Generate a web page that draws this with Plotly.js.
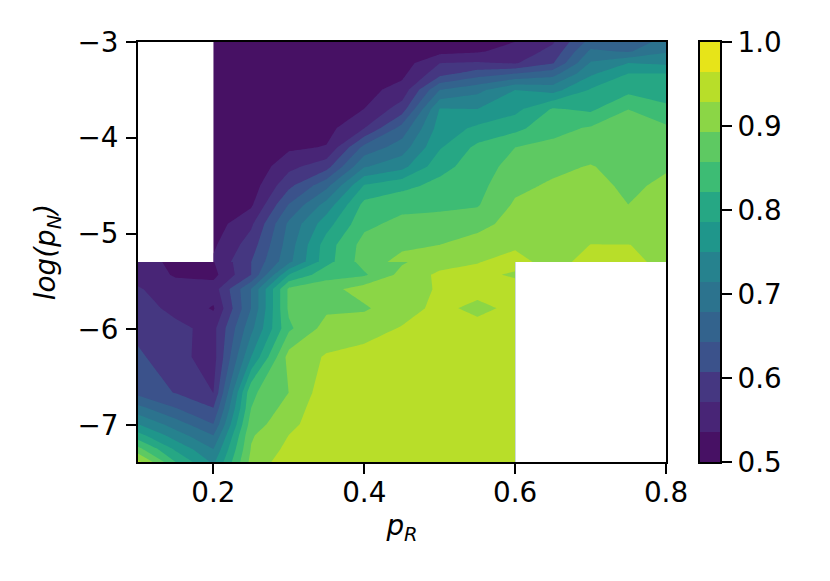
<!DOCTYPE html>
<html><head><meta charset="utf-8"><script src="https://cdn.plot.ly/plotly-3.0.1.min.js"></script>
<style>html,body{margin:0;padding:0;background:#fff}</style></head><body><div id="c" style="width:830px;height:581px"></div>
<script>
const step=0.5/14;
const bandColors=["#471164","#482576","#453781","#3b528b","#33638d","#2c738e","#26828e","#1f968b","#26a784","#3dbc74","#5ec962","#8bd646","#b8de29","#e7e419"];
const xUpper=[0.2,0.25,0.3,0.35,0.4,0.45,0.5,0.55,0.6,0.65,0.7,0.75,0.8];
const yUpper=[-3,-3.1,-3.22,-3.33,-3.5,-3.7,-3.9,-4.1,-4.3,-4.5,-4.7,-4.9,-5.12,-5.297];
// one list per p_R column, top row first
const upperCols=[
[.502,.502,.502,.502,.502,.502,.502,.502,.503,.505,.511,.518,.530,.541],
[.502,.502,.502,.502,.502,.502,.502,.503,.507,.516,.530,.565,.589,.607],
[.502,.502,.502,.502,.502,.503,.511,.529,.561,.598,.645,.686,.696,.705],
[.502,.502,.502,.503,.507,.514,.523,.538,.593,.668,.729,.771,.804,.807],
[.502,.504,.507,.513,.525,.536,.571,.654,.711,.789,.832,.848,.871,.875],
[.504,.509,.518,.527,.548,.589,.657,.696,.738,.811,.846,.868,.886,.904],
[.514,.525,.571,.593,.679,.752,.766,.782,.809,.832,.85,.870,.893,.914],
[.518,.532,.575,.625,.704,.75,.793,.830,.839,.846,.854,.879,.911,.927],
[.536,.55,.568,.643,.75,.775,.811,.857,.871,.884,.898,.909,.923,.941],
[.568,.582,.604,.664,.736,.825,.846,.866,.884,.898,.905,.911,.914,.914],
[.657,.686,.718,.743,.789,.814,.861,.875,.895,.904,.911,.918,.929,.943],
[.65,.675,.75,.786,.811,.857,.864,.871,.879,.886,.893,.907,.929,.936],
[.696,.711,.743,.786,.804,.829,.864,.879,.889,.9,.911,.918,.923,.921]];
const xLower=[0.1,0.15,0.2,0.25,0.3,0.35,0.4,0.45,0.5,0.55,0.6];
const yLower=[-5.297,-5.43,-5.58,-5.78,-5.99,-6.29,-6.66,-6.82,-6.99,-7.11,-7.25,-7.386];
const lowerCols=[
[.546,.557,.575,.586,.596,.614,.632,.689,.75,.8,.868,.939],
[.530,.532,.55,.562,.580,.582,.605,.643,.696,.732,.779,.821],
[.534,.525,.554,.532,.561,.557,.571,.607,.643,.679,.714,.743],
[.607,.607,.679,.679,.704,.75,.85,.857,.875,.889,.895,.904],
[.707,.786,.864,.864,.85,.907,.893,.907,.918,.929,.938,.95],
[.811,.843,.879,.886,.907,.932,.95,.954,.954,.957,.957,.961],
[.871,.852,.911,.887,.920,.936,.95,.954,.957,.957,.957,.961],
[.889,.904,.914,.920,.930,.946,.954,.954,.957,.957,.961,.961],
[.914,.936,.932,.934,.943,.95,.957,.957,.957,.957,.961,.961],
[.927,.939,.936,.923,.936,.95,.957,.957,.957,.957,.961,.961],
[.943,.923,.945,.934,.943,.95,.957,.957,.957,.957,.961,.961]];
const toRows=(cols)=>cols[0].map((_,r)=>cols.map(c=>c[r]));
const scale=[[0,bandColors[0]]];
bandColors.forEach((c,i)=>scale.push([(i+1)/15,c]));
scale.push([1,bandColors[13]]);
const font={family:'"DejaVu Sans"',size:27.8,color:'#000'};
const contours={start:0.5,end:1.0,size:step,coloring:'fill',showlines:false};
const common={type:'contour',contours,autocontour:false,colorscale:scale,showscale:false,line:{width:0,smoothing:0}};
// colour bar drawn as a heatmap on its own axes
const barEdges=bandColors.map((_,i)=>0.5+i*step).concat([1.0]);
const barZ=bandColors.map((_,i)=>[i]);
const barScale=[];
bandColors.forEach((c,i)=>{barScale.push([i/14,c]);barScale.push([(i+1)/14,c]);});
const W=830-138-60;
const ticks={ticks:'outside',ticklen:10,tickwidth:2,tickcolor:'#000',showline:true,mirror:true,linecolor:'#000',linewidth:2,showgrid:false,zeroline:false,tickfont:font};
Plotly.newPlot('c',[
 Object.assign({},common,{x:xUpper,y:yUpper,z:toRows(upperCols)}),
 Object.assign({},common,{x:xLower,y:yLower,z:toRows(lowerCols)}),
 {type:'heatmap',xaxis:'x2',yaxis:'y2',x:[0,1],y:barEdges,z:barZ,zmin:0,zmax:14,colorscale:barScale,showscale:false,hoverinfo:'skip'}
],{width:830,height:581,paper_bgcolor:'#fff',plot_bgcolor:'#fff',showlegend:false,
 margin:{l:138,r:60,t:42,b:119,pad:0},font,
 xaxis:Object.assign({},ticks,{domain:[0,528/W],range:[0.1,0.8],tickmode:'array',tickvals:[0.2,0.4,0.6,0.8],ticktext:['0.2','0.4','0.6','0.8'],ticklabelstandoff:-5,
  title:{text:'<i>p<sub>R</sub></i>',font,standoff:6}}),
 yaxis:Object.assign({},ticks,{range:[-7.386,-3],tickmode:'array',tickvals:[-3,-4,-5,-6,-7],ticktext:['−3','−4','−5','−6','−7'],ticklabelstandoff:2,
  title:{text:'<i>log(p<sub>N</sub>)</i>',font,standoff:14}}),
 xaxis2:{domain:[562/W,582/W],anchor:'y2',range:[0,1],showticklabels:false,ticks:'',showline:true,mirror:true,linecolor:'#000',linewidth:2,showgrid:false,zeroline:false},
 yaxis2:Object.assign({},ticks,{anchor:'x2',side:'right',range:[0.5,1.0],tickmode:'array',tickvals:[0.5,0.6,0.7,0.8,0.9,1.0],ticktext:['0.5','0.6','0.7','0.8','0.9','1.0']})
},{displayModeBar:false});
</script></body></html>
